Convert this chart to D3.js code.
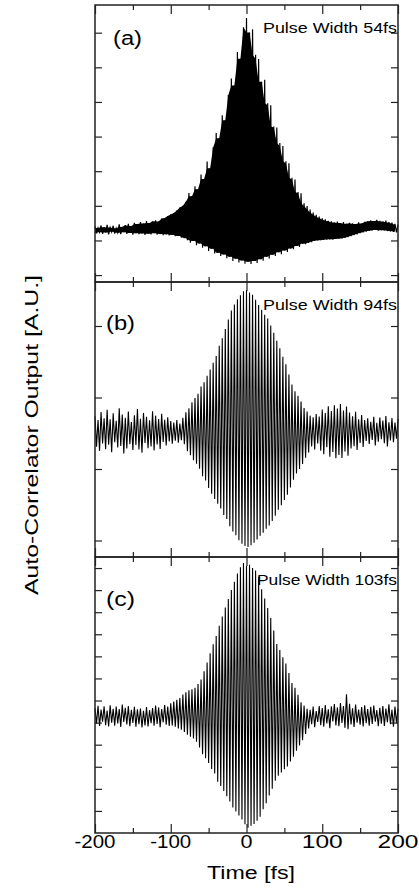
<!DOCTYPE html>
<html>
<head>
<meta charset="utf-8">
<script src="https://cdn.jsdelivr.net/npm/d3@7"></script>
<style>
body { margin: 0; background: #fff; }
text { font-family: "Liberation Sans", Arial, sans-serif; fill: #000; }
</style>
</head>
<body>
<div id="chart"></div>
<script>
// ********** AUTO-CORRELATOR TRACES **********

// Time axis (fs), one sample every 2 fs, alternating fringe peak / trough
const timeRange = [-200, 200];
const timeStep = 2;
const xTickMajor = [-200, -100, 0, 100, 200];
const xTickMinor = [-150, -50, 50, 150];

const panelLabels = ['(a)', '(b)', '(c)'];
const pulseLabels = ['Pulse Width 54fs', 'Pulse Width 94fs', 'Pulse Width 103fs'];

// Unlabelled y ticks of each panel (A.U., panel = 0..100)
const yTicksA = [2.5, 15, 27.5, 40, 52.5, 65, 77.5, 90];
const yTicksB = [6, 32, 58, 84];
const yTicksC = [8, 16, 24, 32, 40, 48, 56, 64, 72, 80, 88, 96];

// Signal (A.U.)
const sigA = [
	20.1, 17.6, 19.5, 18.0, 20.4, 17.4, 19.8, 17.9, 20.6, 17.2,
	19.7, 18.1, 20.3, 17.5, 19.4, 17.8, 20.8, 17.3, 19.9, 18.0,
	20.5, 17.4, 21.0, 17.7, 20.2, 17.1, 21.4, 17.6, 20.9, 17.3,
	21.6, 17.5, 21.1, 17.0, 22.0, 17.4, 21.3, 17.2, 21.9, 17.6,
	22.3, 17.1, 21.8, 17.3, 22.9, 16.9, 23.1, 17.2, 23.8, 16.8,
	24.4, 17.0, 24.9, 16.5, 25.8, 16.6, 26.9, 16.0, 27.5, 15.8,
	29.0, 15.1, 32.1, 14.2, 31.0, 14.8, 34.6, 13.3, 33.5, 13.9,
	38.8, 12.4, 37.2, 12.9, 43.5, 11.2, 41.1, 12.0, 48.6, 10.3,
	53.8, 10.6, 51.9, 9.4, 60.2, 9.9, 58.4, 8.6, 67.5, 9.1,
	73.5, 7.6, 70.9, 8.4, 83.0, 7.0, 80.6, 7.8, 92.0, 6.6,
	95.3, 7.3, 90.1, 6.5, 91.2, 7.6, 82.0, 6.9, 80.5, 8.2,
	72.3, 7.7, 73.0, 9.1, 64.5, 8.5, 63.8, 9.8, 56.1, 9.4,
	55.8, 10.7, 50.2, 10.0, 49.1, 11.4, 43.6, 10.8, 42.9, 12.1,
	37.6, 11.8, 37.0, 13.0, 32.5, 12.6, 32.0, 13.8, 28.4, 13.6,
	27.4, 14.1, 26.2, 14.4, 25.1, 14.8, 24.3, 15.0, 23.6, 15.1,
	23.0, 15.2, 22.6, 15.3, 22.1, 15.4, 21.9, 15.3, 21.5, 15.5,
	21.8, 15.6, 21.3, 15.7, 21.6, 15.9, 21.0, 16.2, 21.4, 16.5,
	21.2, 16.9, 20.9, 17.2, 21.5, 17.6, 21.1, 17.9, 21.7, 18.2,
	21.9, 18.4, 22.3, 18.6, 22.0, 18.8, 22.4, 18.5, 22.1, 18.7,
	21.8, 18.6, 22.2, 18.4, 21.6, 18.3, 21.4, 18.1, 21.0, 17.9,
	20.7
];

const sigB = [
	51.2, 40.1, 49.8, 38.6, 52.7, 41.3, 50.4, 39.2, 53.5, 40.8,
	50.1, 38.1, 52.3, 41.7, 49.5, 39.8, 54.1, 40.4, 51.8, 37.6,
	50.6, 39.5, 52.9, 41.0, 49.1, 38.9, 51.5, 40.7, 53.8, 39.1,
	50.3, 37.9, 52.4, 41.5, 51.0, 39.6, 49.7, 40.2, 53.0, 38.7,
	51.4, 40.9, 50.2, 39.3, 52.1, 41.8, 49.9, 40.6, 50.8, 42.0,
	49.4, 41.2, 48.9, 42.3, 49.8, 41.6, 48.5, 42.5, 50.6, 41.0,
	52.6, 38.5, 54.1, 37.0, 56.3, 35.2, 57.8, 33.9, 59.4, 32.1,
	62.0, 29.4, 63.5, 27.8, 65.9, 25.1, 68.2, 23.0, 70.6, 21.1,
	73.1, 19.4, 76.8, 17.6, 79.5, 15.3, 82.9, 13.8, 86.4, 11.2,
	89.6, 9.3, 91.8, 7.9, 93.7, 6.1, 95.2, 4.8, 96.6, 4.0,
	97.1, 3.6, 96.2, 4.3, 95.4, 5.2, 93.5, 6.4, 91.6, 7.7,
	89.9, 8.8, 88.1, 10.3, 86.7, 11.5, 84.2, 13.1, 81.5, 15.0,
	78.6, 17.2, 75.9, 18.8, 72.8, 20.7, 70.1, 22.6, 66.4, 25.3,
	62.7, 28.1, 60.3, 30.4, 58.6, 32.0, 56.5, 33.8, 54.2, 36.1,
	52.9, 38.0, 51.4, 40.2, 50.8, 39.1, 52.0, 41.3, 51.1, 38.6,
	53.6, 37.4, 52.4, 39.9, 54.8, 36.5, 53.1, 38.2, 55.2, 35.9,
	54.0, 37.1, 55.6, 36.0, 53.3, 38.4, 54.7, 36.8, 52.5, 39.5,
	51.2, 40.3, 52.8, 38.9, 50.1, 41.5, 51.6, 40.0, 49.8, 42.2,
	50.4, 41.1, 49.2, 42.6, 51.0, 40.6, 48.8, 41.9, 50.7, 42.8,
	49.6, 41.4, 51.3, 40.2, 49.0, 42.4, 50.5, 41.7, 48.9, 43.0,
	50.2
];

const sigC = [
	45.2, 39.6, 46.1, 38.8, 44.7, 40.3, 45.9, 39.1, 44.4, 38.6,
	46.3, 40.0, 45.0, 38.9, 45.8, 39.7, 44.9, 38.4, 46.5, 40.2,
	45.4, 39.3, 46.0, 38.7, 44.6, 39.9, 45.7, 38.5, 44.8, 39.4,
	45.1, 38.2, 44.3, 39.0, 45.6, 38.6, 44.5, 39.8, 45.3, 38.9,
	46.2, 39.5, 45.5, 38.3, 44.9, 40.1, 46.4, 39.2, 45.8, 38.8,
	47.0, 39.0, 47.6, 38.5, 48.3, 37.9, 48.9, 37.4, 50.2, 36.6,
	51.0, 35.6, 51.7, 34.9, 52.1, 34.2, 52.6, 33.1, 54.0, 31.0,
	55.6, 28.5, 58.6, 27.1, 61.8, 25.4, 65.1, 23.2, 68.4, 21.6,
	71.4, 18.6, 75.1, 17.0, 78.4, 15.2, 81.7, 13.3, 84.8, 11.4,
	88.0, 9.2, 91.0, 7.8, 94.0, 6.3, 96.3, 4.9, 97.8, 3.2,
	96.8, 1.9, 97.2, 2.6, 96.0, 3.3, 95.1, 4.4, 92.8, 5.9,
	88.3, 8.6, 85.0, 10.8, 81.5, 13.6, 77.9, 16.0, 73.4, 18.9,
	68.5, 20.7, 66.3, 21.9, 63.7, 23.1, 61.4, 24.1, 58.0, 25.9,
	54.3, 27.6, 52.6, 29.8, 50.1, 31.7, 47.4, 33.6, 46.2, 35.9,
	45.0, 37.9, 44.6, 39.4, 45.8, 38.3, 44.2, 40.2, 46.0, 39.1,
	45.3, 38.5, 46.4, 39.7, 44.8, 38.0, 45.9, 40.4, 46.7, 39.0,
	45.5, 38.7, 47.1, 39.9, 46.0, 38.1, 50.3, 37.6, 46.8, 39.3,
	45.2, 38.4, 46.5, 40.0, 44.7, 39.2, 45.6, 38.6, 46.3, 39.8,
	44.9, 38.9, 45.7, 39.5, 46.2, 40.3, 44.5, 38.7, 45.4, 39.6,
	46.0, 38.8, 45.1, 40.1, 46.6, 39.4, 44.6, 38.5, 45.8, 39.9,
	45.0
];

const times = d3.range(timeRange[0], timeRange[1] + timeStep, timeStep);

// Layout
const width = 419, height = 890;
const plotLeft = 95, plotRight = 398;
const frameColor = '#222';

// (a) fringes are too dense to resolve, so the band between peaks and troughs is filled
const panels = [
	{ top: 5, bottom: 282, values: sigA, ticks: yTicksA, lw: 1.2, solid: true, labelX: 113, labelDy: 40 },
	{ top: 282, bottom: 557, values: sigB, ticks: yTicksB, lw: 1.1, solid: false, labelX: 106, labelDy: 48 },
	{ top: 557, bottom: 833, values: sigC, ticks: yTicksC, lw: 1.1, solid: false, labelX: 106, labelDy: 49 }
];

const svg = d3.select('#chart')
	.append('svg')
	.attr('width', width)
	.attr('height', height);

const x = d3.scaleLinear()
	.domain(timeRange)
	.range([plotLeft, plotRight]);

// Tick helper: strip domain line, style tick lines
const styleTicks = (g) => {
	g.select('.domain').remove();
	g.selectAll('line')
		.attr('stroke', frameColor)
		.attr('stroke-width', 1.2);
};

panels.forEach((p, k) => {
	const y = d3.scaleLinear()
		.domain([0, 100])
		.range([p.bottom, p.top]);

	const g = svg.append('g').attr('class', `panel panel-${k}`);

	// Peak/trough band (panel a only), slightly inside the fringe tips
	if (p.solid) {
		const pairs = d3.range(0, p.values.length - 1, 2)
			.map(i => ({
				t: times[i],
				hi: Math.min(p.values[i], p.values[Math.min(i + 2, p.values.length - 1)]),
				lo: Math.max(p.values[i + 1], p.values[Math.max(i - 1, 1)])
			}));
		const band = d3.area()
			.x(d => x(d.t))
			.y0(d => y(d.lo))
			.y1(d => y(d.hi));
		g.append('path')
			.datum(pairs)
			.attr('d', band)
			.attr('fill', '#000');
	}

	// Fringe trace
	const line = d3.line()
		.x((d, i) => x(times[i]))
		.y(d => y(d));

	g.append('path')
		.datum(p.values)
		.attr('d', line)
		.attr('fill', 'none')
		.attr('stroke', '#000')
		.attr('stroke-width', p.lw)
		.attr('stroke-linejoin', 'miter');

	// x ticks, top and bottom, pointing inward
	[[xTickMajor, 9], [xTickMinor, 5]].forEach(([vals, size]) => {
		g.append('g')
			.attr('transform', `translate(0, ${p.bottom})`)
			.call(d3.axisTop(x).tickValues(vals).tickSize(size).tickFormat(''))
			.call(styleTicks);
		g.append('g')
			.attr('transform', `translate(0, ${p.top})`)
			.call(d3.axisBottom(x).tickValues(vals).tickSize(size).tickFormat(''))
			.call(styleTicks);
	});

	// y ticks, left and right, pointing inward
	g.append('g')
		.attr('transform', `translate(${plotLeft}, 0)`)
		.call(d3.axisRight(y).tickValues(p.ticks).tickSize(7).tickFormat(''))
		.call(styleTicks);
	g.append('g')
		.attr('transform', `translate(${plotRight}, 0)`)
		.call(d3.axisLeft(y).tickValues(p.ticks).tickSize(7).tickFormat(''))
		.call(styleTicks);

	// Frame
	g.append('rect')
		.attr('x', plotLeft)
		.attr('y', p.top)
		.attr('width', plotRight - plotLeft)
		.attr('height', p.bottom - p.top)
		.attr('fill', 'none')
		.attr('stroke', frameColor)
		.attr('stroke-width', 1.5);

	// Panel letter
	g.append('text')
		.attr('x', p.labelX)
		.attr('y', p.top + p.labelDy)
		.attr('font-size', '20px')
		.attr('textLength', 29)
		.attr('lengthAdjust', 'spacingAndGlyphs')
		.text(panelLabels[k]);

	// Pulse width note
	g.append('text')
		.attr('x', plotRight - 1)
		.attr('y', p.top + 28)
		.attr('text-anchor', 'end')
		.attr('font-size', '15px')
		.attr('textLength', k === 2 ? 140 : 134)
		.attr('lengthAdjust', 'spacingAndGlyphs')
		.text(pulseLabels[k]);
});

// Bottom tick labels
const xLabels = svg.append('g').attr('class', 'x-labels');
xLabels.selectAll('text')
	.data(xTickMajor)
	.enter()
	.append('text')
	.attr('x', d => x(d))
	.attr('y', 848)
	.attr('text-anchor', 'middle')
	.attr('font-size', '18px')
	.attr('textLength', d => d === 0 ? 12 : 41)
	.attr('lengthAdjust', 'spacingAndGlyphs')
	.text(d => d);

// Axis titles
svg.append('text')
	.attr('x', 251)
	.attr('y', 879)
	.attr('text-anchor', 'middle')
	.attr('font-size', '18px')
	.attr('textLength', 88)
	.attr('lengthAdjust', 'spacingAndGlyphs')
	.text('Time [fs]');

svg.append('text')
	.attr('transform', 'translate(38, 435) rotate(-90)')
	.attr('text-anchor', 'middle')
	.attr('font-size', '18px')
	.attr('textLength', 320)
	.attr('lengthAdjust', 'spacingAndGlyphs')
	.text('Auto-Correlator Output [A.U.]');
</script>
</body>
</html>
